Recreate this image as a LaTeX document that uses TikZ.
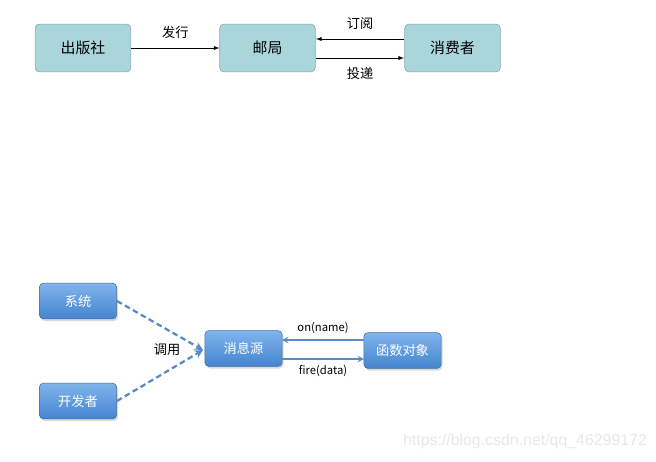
\documentclass[tikz,border=0pt]{standalone}
\usepackage{fontspec}
\setmainfont{Noto Sans CJK SC}
\newfontfamily\wmfont{Liberation Sans}
\usetikzlibrary{shadows}
\definecolor{boxteal}{RGB}{170,214,219}
\definecolor{boxedge}{RGB}{128,168,174}
\definecolor{bluetop}{RGB}{128,180,236}
\definecolor{bluebot}{RGB}{68,132,208}
\definecolor{blueline}{RGB}{88,138,198}

\begin{document}
\begin{tikzpicture}[x=0.025cm,y=-0.025cm,
    postbox/.style={draw=boxedge,fill=boxteal,rounded corners=3pt,inner sep=0pt,
        minimum width=68pt,minimum height=34pt,font=\fontsize{10.6}{12}\selectfont},
    msgbox/.style={draw=blueline!80!black,top color=bluetop,bottom color=bluebot,
        rounded corners=3pt,inner sep=0pt,minimum width=55pt,minimum height=25.5pt,
        text=white,font=\fontsize{9.4}{11}\selectfont,
        drop shadow={opacity=0.3,shadow xshift=1pt,shadow yshift=-1.5pt}},
    lbl/.style={font=\fontsize{9.4}{11}\selectfont},
    smalllbl/.style={font=\fontsize{8}{10}\selectfont},
    dasharrow/.style={draw=blueline,line width=1.6pt,dash pattern=on 4pt off 2.5pt,-stealth},
    bluearrow/.style={draw=blueline,line width=1pt,-stealth}]
    \useasboundingbox (0,0) rectangle (656,461);

    % upper diagram
    \node[postbox] (pub) at (83,48){出版社};
    \node[postbox] (post) at (267.5,48){邮局};
    \node[postbox] (reader) at (452.5,48){消费者};
    \coordinate (subA) at (404,39);
    \coordinate (subB) at (316,39);
    \coordinate (dlvA) at (316,58);
    \coordinate (dlvB) at (404,58);

    \draw[-latex] (pub) -- (post) node[lbl,midway,above=3pt]{发行};
    \draw[-latex] (subA) -- (subB) node[lbl,midway,above=3pt]{订阅};
    \draw[-latex] (dlvA) -- (dlvB) node[lbl,midway,below=3pt]{投递};

    % lower diagram
    \node[msgbox] (sys) at (78,301){系统};
    \node[msgbox] (dev) at (78,401){开发者};
    \node[msgbox] (src) at (243.5,348.5){消息源};
    \node[msgbox] (func) at (402.5,350.5){函数对象};
    \coordinate (tip) at (203,350);
    \coordinate (onA) at (364,340);
    \coordinate (onB) at (282,340);
    \coordinate (fireA) at (282,359);
    \coordinate (fireB) at (364,359);

    \draw[dasharrow] (sys.east) -- (tip);
    \draw[dasharrow] (dev.east) -- (tip);
    \node[lbl] (call) at (167,350){调用};

    \draw[bluearrow] (onA) -- (onB) node[smalllbl,midway,above=0.5pt]{on(name)};
    \draw[bluearrow] (fireA) -- (fireB) node[smalllbl,midway,below=0.5pt]{fire(data)};

    \node[text=black!9,font=\wmfont\fontsize{11.3}{13}\selectfont] (mark) at (525,441){https://blog.csdn.net/qq\_46299172};
\end{tikzpicture}
\end{document}
